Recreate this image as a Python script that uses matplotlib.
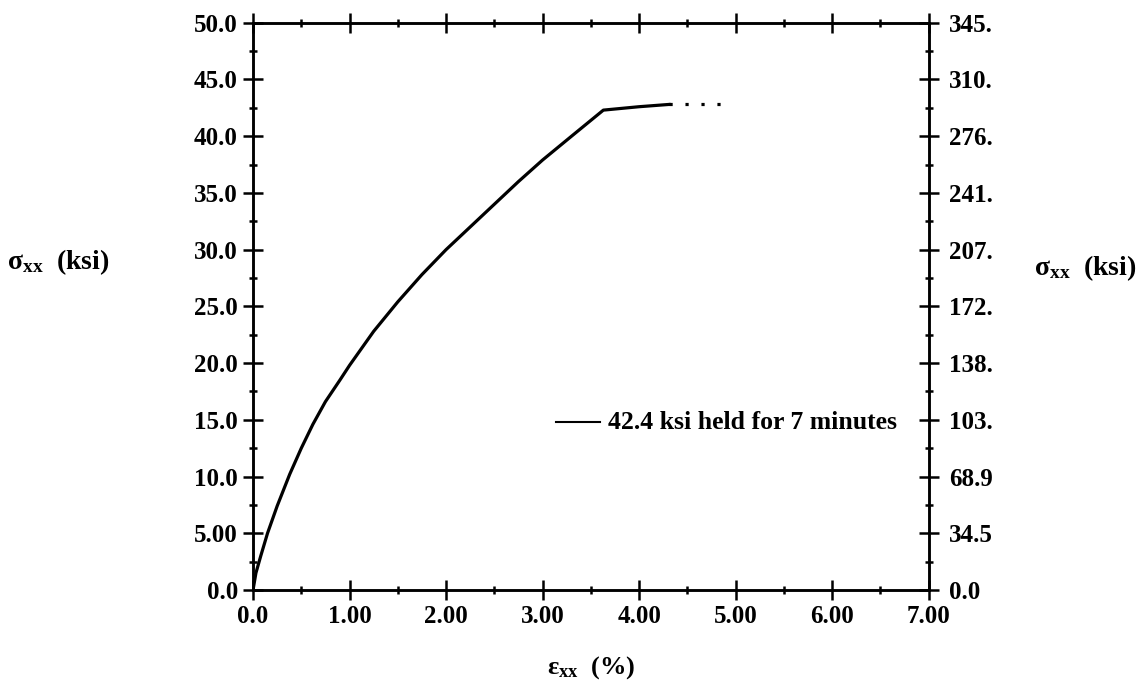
import matplotlib
matplotlib.use("Agg")
import matplotlib.pyplot as plt
from matplotlib.ticker import MultipleLocator, FixedLocator

# ---- data ----
strain = [0.0, 0.03, 0.08, 0.15, 0.25, 0.38, 0.50, 0.62, 0.75, 0.90, 1.00, 1.25,
          1.50, 1.75, 2.00, 2.25, 2.50, 2.75, 3.00, 3.30, 3.63, 4.00, 4.31]
stress = [0.0, 1.5, 3.0, 5.0, 7.4, 10.2, 12.5, 14.6, 16.6, 18.5, 19.8, 22.8,
          25.4, 27.8, 30.0, 32.0, 34.0, 36.0, 37.9, 40.0, 42.3, 42.6, 42.8]
hold_strain = [4.31, 4.49, 4.62, 4.88]
hold_stress = [42.8, 42.8, 42.8, 42.8]

x_ticks = [0, 1, 2, 3, 4, 5, 6, 7]
x_labels = ['0.0', '1.00', '2.00', '3.00', '4.00', '5.00', '6.00', '7.00']
y_ticks = [0, 5, 10, 15, 20, 25, 30, 35, 40, 45, 50]
y_labels = ['0.0', '5.00', '10.0', '15.0', '20.0', '25.0', '30.0', '35.0', '40.0', '45.0', '50.0']
y2_labels = ['0.0', '34.5', '68.9', '103.', '138.', '172.', '207.', '241.', '276.', '310.', '345.']
note_text = '42.4 ksi held for 7 minutes'
note_line_x = [3.14, 3.60]
note_y = 14.8

plt.rcParams['font.family'] = ['Liberation Serif', 'DejaVu Serif']
plt.rcParams['font.weight'] = 'bold'
plt.rcParams['mathtext.fontset'] = 'custom'
plt.rcParams['mathtext.rm'] = 'Liberation Serif:bold'
plt.rcParams['mathtext.bf'] = 'Liberation Serif:bold'
plt.rcParams['mathtext.it'] = 'Liberation Serif:italic'

fig = plt.figure(figsize=(11.45, 6.9), dpi=100)
ax = fig.add_axes([0.221, 0.145, 0.590, 0.822])

ax.plot(strain, stress, color='black', lw=2.3, solid_joinstyle='round')
ax.plot(hold_strain, hold_stress, color='black', lw=2.3, linestyle=(0, (1, 4)))
ax.plot(note_line_x, [note_y, note_y], color='black', lw=1.5)
ax.text(3.68, note_y, note_text, fontsize=18.5, fontweight='bold', va='center', ha='left')

ax.set_xlim(0, 7)
ax.set_ylim(0, 50)

ax.xaxis.set_major_locator(FixedLocator(x_ticks))
ax.set_xticklabels(x_labels)
ax.xaxis.set_minor_locator(MultipleLocator(0.5))
ax.yaxis.set_major_locator(FixedLocator(y_ticks))
ax.set_yticklabels(y_labels)
ax.yaxis.set_minor_locator(MultipleLocator(2.5))

for s in ax.spines.values():
    s.set_linewidth(1.8)

ax.tick_params(which='major', direction='inout', length=14, width=1.8, labelsize=18,
               top=True, right=False, pad=4)
ax.tick_params(which='minor', direction='inout', length=6, width=1.8, top=True, right=False)

ax2 = ax.twinx()
ax2.set_ylim(0, 50)
ax2.yaxis.set_major_locator(FixedLocator(y_ticks))
ax2.set_yticklabels(y2_labels)
ax2.yaxis.set_minor_locator(MultipleLocator(2.5))
ax2.tick_params(which='major', direction='inout', length=14, width=1.8, labelsize=18, pad=8)
ax2.tick_params(which='minor', direction='inout', length=6, width=1.8)
for s in ax2.spines.values():
    s.set_linewidth(1.8)

for lab in ax.get_xticklabels() + ax.get_yticklabels() + ax2.get_yticklabels():
    lab.set_fontweight('bold')

fig.text(0.051, 0.62, r'σ$_{\mathrm{xx}}$  (ksi)', fontsize=20, ha='center', va='center')
fig.text(0.948, 0.612, r'σ$_{\mathrm{xx}}$  (ksi)', fontsize=20, ha='center', va='center')
fig.text(0.516, 0.033, r'ε$_{\mathrm{xx}}$  $\mathit{(\%)}$', fontsize=19, ha='center', va='center')

fig.savefig('out.png', dpi=100, facecolor='white')
